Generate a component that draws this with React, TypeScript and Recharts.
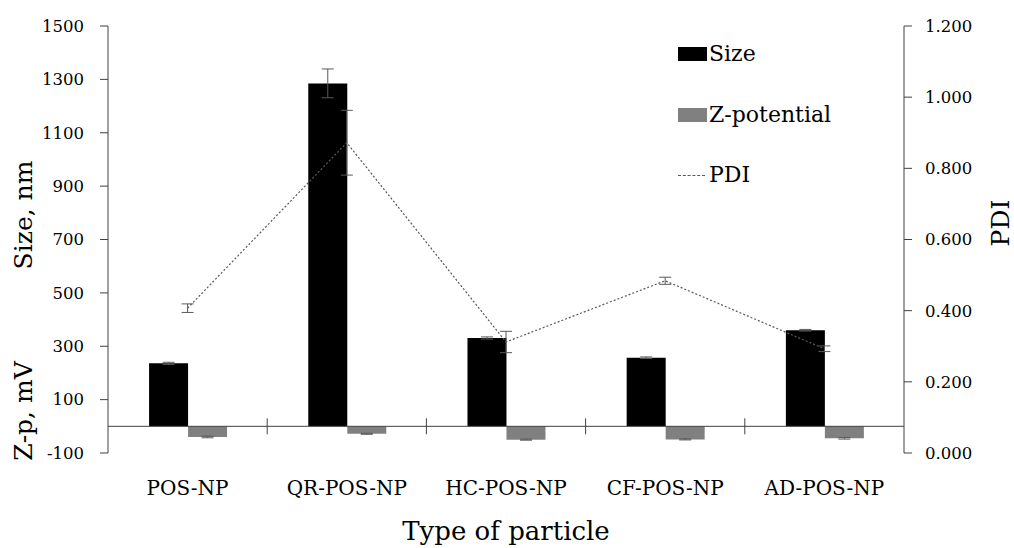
import React from "react";
import {
  ComposedChart,
  Bar,
  Line,
  XAxis,
  YAxis,
  ErrorBar,
  ReferenceLine,
  Legend,
} from "recharts";

const categories = ["POS-NP", "QR-POS-NP", "HC-POS-NP", "CF-POS-NP", "AD-POS-NP"];
const sizeValues = [236, 1285, 331, 257, 360];
const sizeErrors = [4, 54, 4, 3, 3];
const zetaValues = [-40, -28, -50, -49, -45];
const zetaErrors = [3, 2, 2, 2, 3];
const pdiValues = [0.407, 0.872, 0.312, 0.484, 0.293];
const pdiErrors = [0.012, 0.091, 0.03, 0.01, 0.008];
const sizeTicks = [-100, 100, 300, 500, 700, 900, 1100, 1300, 1500];
const pdiTicks = [0, 0.2, 0.4, 0.6, 0.8, 1.0, 1.2];

const FONT = "'DejaVu Serif', serif";
const AXIS = "#404040";
const ERR = "#595959";
const SIZE_COLOR = "#000000";
const ZETA_COLOR = "#808080";

const data = categories.map((name, i) => ({
  name,
  size: sizeValues[i],
  sizeErr: sizeErrors[i],
  zeta: zetaValues[i],
  zetaErr: zetaErrors[i],
  pdi: pdiValues[i],
  pdiErr: pdiErrors[i],
}));

function CategoryTick(props: { x?: number; y?: number; payload?: { value?: string } }) {
  const { x = 0, y = 0, payload } = props;
  return (
    <text x={x} y={y + 42} textAnchor="middle" fontSize={20} fill="#000" fontFamily={FONT}>
      {payload?.value}
    </text>
  );
}

function LeftTitles(props: { viewBox?: { x: number; y: number; width: number; height: number } }) {
  const vb = props.viewBox ?? { x: 0, y: 0, width: 0, height: 0 };
  const cx = vb.x + 23;
  return (
    <g fontFamily={FONT} fontSize={25} fill="#000">
      <text x={cx} y={215} transform={`rotate(-90 ${cx} 215)`} textAnchor="middle" dominantBaseline="central">
        Size, nm
      </text>
      <text x={cx} y={411} transform={`rotate(-90 ${cx} 411)`} textAnchor="middle" dominantBaseline="central">
        Z-p, mV
      </text>
    </g>
  );
}

function RightTitle(props: { viewBox?: { x: number; y: number; width: number; height: number } }) {
  const vb = props.viewBox ?? { x: 0, y: 0, width: 0, height: 0 };
  const cx = vb.x + 96;
  return (
    <text x={cx} y={223} transform={`rotate(-90 ${cx} 223)`} textAnchor="middle" dominantBaseline="central"
      fontFamily={FONT} fontSize={25} fill="#000">
      PDI
    </text>
  );
}

function BottomTitle(props: { viewBox?: { x: number; y: number; width: number; height: number } }) {
  const vb = props.viewBox ?? { x: 0, y: 0, width: 0, height: 0 };
  return (
    <text x={vb.x + vb.width / 2} y={vb.y + vb.height - 8} textAnchor="middle" fontFamily={FONT} fontSize={26} fill="#000">
      Type of particle
    </text>
  );
}

function ChartLegend() {
  const txt: React.CSSProperties = { position: "absolute", left: 709, fontSize: 22, fontFamily: FONT, lineHeight: "22px", color: "#000", whiteSpace: "nowrap" };
  return (
    <div style={{ position: "relative", width: 1014, height: 200 }}>
      <span style={{ position: "absolute", left: 678, top: 47, width: 29, height: 14, background: SIZE_COLOR }} />
      <span style={{ ...txt, top: 43 }}>Size</span>
      <span style={{ position: "absolute", left: 678, top: 108, width: 29, height: 14, background: ZETA_COLOR }} />
      <span style={{ ...txt, top: 104 }}>Z-potential</span>
      <span style={{ position: "absolute", left: 678, top: 175, width: 27, borderTop: `1px dashed ${ERR}` }} />
      <span style={{ ...txt, top: 164 }}>PDI</span>
    </div>
  );
}

export default function App() {
  return (
    <div style={{ width: 1014, height: 548, background: "#fff", fontFamily: FONT }}>
      <style>{`body{margin:0;}`}</style>
      <ComposedChart
        width={1014}
        height={548}
        data={data}
        margin={{ top: 26, right: 0, bottom: 0, left: 0 }}
        barCategoryGap="25.8%"
        barGap={0}
      >
        <XAxis
          dataKey="name"
          axisLine={false}
          tickLine={false}
          tickSize={0}
          tickMargin={0}
          height={95}
          tick={<CategoryTick />}
          interval={0}
          label={{ content: (p: any) => <BottomTitle {...p} /> }}
        />
        <YAxis
          yAxisId="size"
          orientation="left"
          width={108}
          domain={[-100, 1500]}
          ticks={sizeTicks}
          allowDataOverflow
          tickSize={8}
          tickMargin={16}
          stroke={AXIS}
          tick={{ fill: "#000", fontSize: 16.5, fontFamily: FONT }}
          label={{ content: (p: any) => <LeftTitles {...p} /> }}
        />
        <YAxis
          yAxisId="pdi"
          orientation="right"
          width={110}
          domain={[0, 1.2]}
          ticks={pdiTicks}
          allowDataOverflow
          tickSize={8}
          tickMargin={13}
          stroke={AXIS}
          tickFormatter={(v: number) => v.toFixed(3)}
          tick={{ fill: "#000", fontSize: 16.5, fontFamily: FONT, textAnchor: "start" }}
          label={{ content: (p: any) => <RightTitle {...p} /> }}
        />
        <Line
          yAxisId="pdi"
          dataKey="pdi"
          name="PDI"
          type="linear"
          stroke={ERR}
          strokeWidth={1.2}
          strokeDasharray="2 2"
          dot={false}
          activeDot={false}
          isAnimationActive={false}
        >
          <ErrorBar dataKey="pdiErr" direction="y" width={6} stroke={ERR} strokeWidth={1} />
        </Line>
        <Bar yAxisId="size" dataKey="size" name="Size" fill={SIZE_COLOR} isAnimationActive={false}>
          <ErrorBar dataKey="sizeErr" direction="y" width={6} stroke={ERR} strokeWidth={1} />
        </Bar>
        <Bar yAxisId="size" dataKey="zeta" name="Z-potential" fill={ZETA_COLOR} isAnimationActive={false}>
          <ErrorBar dataKey="zetaErr" direction="y" width={6} stroke={ERR} strokeWidth={1} />
        </Bar>
        <ReferenceLine yAxisId="size" y={0} stroke={AXIS} strokeWidth={1} />
        {categories.slice(1).map((c) => (
          <ReferenceLine
            key={c}
            yAxisId="size"
            position="start"
            segment={[{ x: c, y: -30 }, { x: c, y: 30 }]}
            stroke={AXIS}
            strokeWidth={1}
          />
        ))}
        <Legend
          layout="vertical"
          verticalAlign="middle"
          align="center"
          wrapperStyle={{ left: 0, top: 0, width: 1014 }}
          content={() => <ChartLegend />}
        />
      </ComposedChart>
    </div>
  );
}
